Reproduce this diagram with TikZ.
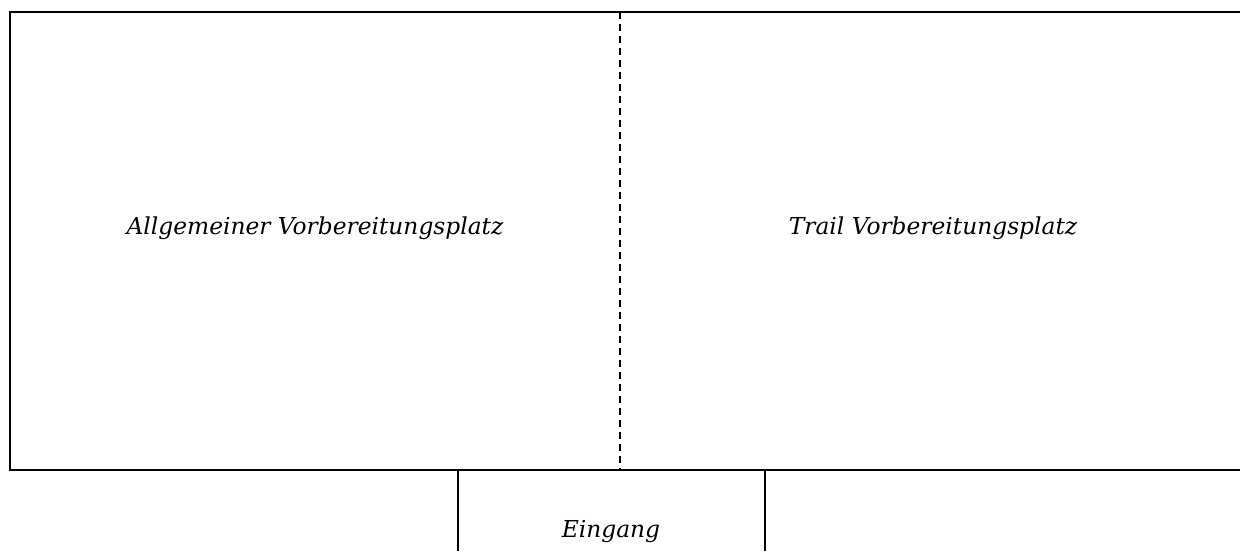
\documentclass[tikz,border=0pt]{standalone}
\usepackage{fontspec}
\usepackage{tikz}
\newfontfamily\planfont{DejaVu Serif}

\begin{document}
\begin{tikzpicture}[x=0.75pt,y=-0.75pt]
            \tikzstyle{every node}+=[inner sep=0pt]
            \tikzstyle{wall}=[black, line width=1.5pt]
            \tikzstyle{gate}=[black, line width=1.1pt]
            \tikzstyle{divider}=[black, line width=1.1pt, dash pattern=on 5.25pt off 3.75pt]
            \tikzstyle{area}=[font=\planfont\itshape\fontsize{17.5}{21}\selectfont]
            \useasboundingbox (0,0) rectangle (1240,551);
            \coordinate (tr) at (1240,12);
            \coordinate (tl) at (9.5,12);
            \coordinate (bl) at (9.5,470);
            \coordinate (br) at (1240,470);
            \draw [wall] (tr) -- (tl) -- (bl) -- (br);
            \coordinate (dtop) at (620,12);
            \coordinate (dbot) at (620,470);
            \draw [divider] (dtop) -- (dbot);
            \coordinate (gl) at (458,470);
            \coordinate (gr) at (765,470);
            \draw [gate] (gl) -- (458,551);
            \draw [gate] (gr) -- (765,551);
            \node [area] (allg) at (315,228) {Allgemeiner Vorbereitungsplatz};
            \node [area] (trail) at (933,228) {Trail Vorbereitungsplatz};
            \node [area] (eingang) at (611,531) {Eingang};
\end{tikzpicture}
\end{document}
